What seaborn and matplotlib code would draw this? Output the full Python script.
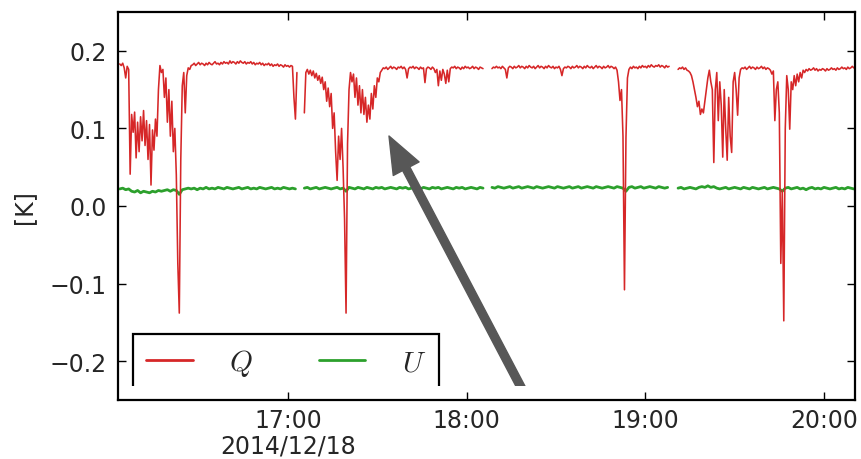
import numpy as np
import pandas as pd
import matplotlib
matplotlib.use("Agg")
import matplotlib.pyplot as plt
import matplotlib.dates as mdates
from matplotlib.ticker import FuncFormatter
from matplotlib.lines import Line2D
from matplotlib.patches import Rectangle
import seaborn as sns

# ---- data -------------------------------------------------------------
# Q sampled every 30 s, U every 60 s; each block is one uninterrupted scan.
q_starts = ["2014-12-18 16:03:30", "2014-12-18 17:05:30",
            "2014-12-18 18:08:30", "2014-12-18 19:11:00"]
u_starts = ["2014-12-18 16:03:30", "2014-12-18 17:05:30",
            "2014-12-18 18:08:30", "2014-12-18 19:11:00"]

q_block1 = [
    0.183, 0.181, 0.184, 0.178, 0.165, 0.180, 0.176, 0.041, 0.118, 0.095,
    0.121, 0.062, 0.108, 0.070, 0.115, 0.084, 0.123, 0.078, 0.110, 0.060,
    0.105, 0.027, 0.098, 0.072, 0.112, 0.090, 0.150, 0.181, 0.172, 0.176,
    0.140, 0.165, 0.108, 0.150, 0.090, 0.135, 0.070, 0.100, 0.040, -0.074,
    -0.138, 0.060, 0.155, 0.172, 0.120, 0.168, 0.178, 0.176, 0.181,
    0.182, 0.184, 0.181, 0.183, 0.185, 0.182, 0.184, 0.183, 0.181, 0.184,
    0.182, 0.185, 0.183, 0.182, 0.184, 0.186, 0.183, 0.184, 0.182, 0.185,
    0.183, 0.186, 0.184, 0.185, 0.183, 0.187, 0.184, 0.186, 0.185, 0.183,
    0.186, 0.184, 0.187, 0.185, 0.184, 0.186, 0.183, 0.185, 0.184, 0.186,
    0.183, 0.185, 0.182, 0.184, 0.183, 0.185, 0.182, 0.184, 0.181, 0.183,
    0.182, 0.184, 0.181, 0.183, 0.180, 0.182, 0.181, 0.183, 0.180, 0.182,
    0.181, 0.179, 0.182, 0.180, 0.181, 0.179, 0.181, 0.180,
    0.140, 0.112, 0.172,
]
q_block2 = [
    0.120, 0.172, 0.176, 0.170, 0.175, 0.168, 0.174, 0.165, 0.171, 0.162,
    0.168, 0.158, 0.166, 0.150, 0.160, 0.135, 0.152, 0.128, 0.145, 0.100,
    0.120, 0.070, 0.033, 0.090, 0.060, 0.100, 0.050, -0.017, -0.138,
    0.080, 0.150, 0.172, 0.160, 0.170, 0.140, 0.165, 0.130, 0.155, 0.120,
    0.150, 0.118, 0.140, 0.108, 0.130, 0.112, 0.145, 0.125, 0.155, 0.140,
    0.165, 0.160, 0.172, 0.175,
    0.178, 0.177, 0.179, 0.176, 0.178, 0.180, 0.177, 0.179, 0.178, 0.176,
    0.179, 0.178, 0.180, 0.177, 0.179, 0.176, 0.165, 0.177, 0.179, 0.178,
    0.180, 0.177, 0.179, 0.178, 0.176, 0.179, 0.177, 0.178, 0.159, 0.177,
    0.179, 0.178, 0.176, 0.179, 0.177, 0.172, 0.176, 0.155, 0.174, 0.162,
    0.176, 0.170, 0.158, 0.175, 0.160, 0.177, 0.179, 0.178, 0.180, 0.177,
    0.179, 0.178, 0.176, 0.179, 0.177, 0.180, 0.178, 0.179, 0.177, 0.178,
    0.180, 0.177, 0.179, 0.178, 0.176, 0.179, 0.178, 0.177,
]
q_block3 = [
    0.177, 0.179, 0.178, 0.180, 0.178, 0.179, 0.177, 0.180, 0.178, 0.176,
    0.165, 0.178, 0.180, 0.179, 0.177, 0.180, 0.178, 0.179, 0.181, 0.178,
    0.180, 0.179, 0.177, 0.180, 0.178, 0.181, 0.179, 0.178, 0.180, 0.177,
    0.179, 0.181, 0.178, 0.180, 0.179, 0.177, 0.180, 0.178, 0.181, 0.179,
    0.178, 0.180, 0.177, 0.179, 0.178, 0.180, 0.176, 0.168, 0.177, 0.179,
    0.178, 0.180, 0.179, 0.177, 0.180, 0.178, 0.179, 0.181, 0.178, 0.180,
    0.179, 0.177, 0.180, 0.178, 0.181, 0.179, 0.178, 0.180, 0.177, 0.179,
    0.181, 0.178, 0.180, 0.179, 0.177, 0.180, 0.178, 0.179, 0.181, 0.178,
    0.180, 0.179, 0.177, 0.179, 0.175, 0.160, 0.136, 0.150, 0.090, -0.108,
    0.088, 0.165, 0.176, 0.179, 0.177, 0.180, 0.178, 0.179, 0.177, 0.180,
    0.178, 0.181, 0.179, 0.180, 0.178, 0.181, 0.179, 0.182, 0.180, 0.179,
    0.181, 0.180, 0.182, 0.179, 0.181, 0.180, 0.178, 0.181, 0.179, 0.180,
]
q_block4 = [
    0.176, 0.178, 0.177, 0.179, 0.176, 0.178, 0.175, 0.174,
    0.172, 0.168, 0.160, 0.150, 0.140, 0.128, 0.135, 0.118, 0.125, 0.120,
    0.135, 0.150, 0.165, 0.175,
    0.160, 0.150, 0.056, 0.150, 0.172, 0.110, 0.160, 0.130, 0.063, 0.150,
    0.100, 0.059, 0.140, 0.090, 0.069, 0.160, 0.172, 0.150, 0.117, 0.165,
    0.176,
    0.178, 0.177, 0.179, 0.176, 0.178, 0.180, 0.177, 0.179, 0.178, 0.176,
    0.179, 0.177, 0.178, 0.180, 0.177, 0.179, 0.176, 0.178, 0.177, 0.175,
    0.170, 0.174, 0.110, 0.150, 0.160, 0.120, -0.074, 0.020, -0.148, 0.100,
    0.168, 0.150, 0.099, 0.160, 0.150, 0.168, 0.155, 0.170, 0.160, 0.172,
    0.165, 0.175, 0.172,
    0.176, 0.174, 0.177, 0.175, 0.176, 0.178, 0.175, 0.177, 0.174, 0.176,
    0.175, 0.177, 0.176, 0.174, 0.177, 0.175, 0.176, 0.178, 0.176, 0.177,
    0.175, 0.178, 0.176, 0.177, 0.179, 0.177, 0.178, 0.176, 0.179, 0.177,
    0.178, 0.180, 0.178, 0.179,
]

u_block1 = [
    0.022, 0.023, 0.021, 0.022,
    0.019, 0.018, 0.020, 0.017, 0.019, 0.018, 0.017, 0.019, 0.018, 0.020, 0.019,
    0.020, 0.021, 0.019, 0.021, 0.020,
    0.015,
    0.021, 0.022, 0.023, 0.022, 0.023, 0.021, 0.023, 0.022, 0.024, 0.022,
    0.023, 0.022, 0.024, 0.023, 0.022, 0.024, 0.023, 0.022, 0.023, 0.024,
    0.022, 0.023, 0.024, 0.022, 0.023, 0.022, 0.024, 0.023, 0.022, 0.023,
    0.024, 0.022, 0.023, 0.022, 0.024, 0.023, 0.022, 0.023, 0.022,
]
u_block2 = [
    0.023, 0.024, 0.022, 0.023, 0.024, 0.022, 0.023, 0.024, 0.023, 0.022,
    0.023, 0.024, 0.022, 0.023, 0.019, 0.024, 0.023, 0.022, 0.024, 0.023,
    0.022, 0.024, 0.023, 0.022, 0.024, 0.023, 0.024, 0.022, 0.023, 0.024,
    0.023, 0.022, 0.024, 0.023, 0.024, 0.022, 0.023, 0.024, 0.023, 0.022,
    0.024, 0.023, 0.022, 0.024, 0.023, 0.024, 0.022, 0.023, 0.024, 0.023,
    0.022, 0.024, 0.023, 0.024, 0.022, 0.023, 0.024, 0.023, 0.022, 0.024,
    0.023,
]
u_block3 = [
    0.024, 0.023, 0.025, 0.024, 0.023, 0.024, 0.025, 0.023, 0.024, 0.025,
    0.023, 0.024, 0.025, 0.024, 0.023, 0.025, 0.024, 0.023, 0.024, 0.025,
    0.024, 0.023, 0.025, 0.024, 0.023, 0.024, 0.025, 0.023, 0.024, 0.025,
    0.023, 0.024, 0.025, 0.024, 0.023, 0.025, 0.024, 0.023, 0.024, 0.025,
    0.024, 0.023, 0.025, 0.024, 0.023, 0.019, 0.024, 0.025, 0.023, 0.024,
    0.025, 0.023, 0.024, 0.025, 0.024, 0.023, 0.025, 0.024, 0.023, 0.024,
]
u_block4 = [
    0.023, 0.024, 0.022, 0.023, 0.024, 0.023, 0.022, 0.024, 0.025, 0.024,
    0.026, 0.024, 0.025, 0.023, 0.022, 0.023, 0.024, 0.022, 0.023, 0.024,
    0.023, 0.022, 0.024, 0.023, 0.022, 0.024, 0.023, 0.022, 0.023, 0.024,
    0.022, 0.023, 0.024, 0.023, 0.022, 0.019, 0.023, 0.024, 0.022, 0.023,
    0.024, 0.022, 0.023, 0.021, 0.023, 0.024, 0.022, 0.023, 0.022, 0.024,
    0.023, 0.022, 0.023, 0.024, 0.022, 0.023, 0.022, 0.024, 0.023, 0.022,
]

legend_labels = ["$Q$", "$U$"]
y_ticks = [-0.2, -0.1, 0.0, 0.1, 0.2]
date_label = "2014/12/18"

RED = "#d62728"
GREEN = "#2ca02c"

# ---- tidy table ---------------------------------------------------------
def blocks_to_frame(name, starts, blocks, step_s):
    parts = []
    for i, (start, vals) in enumerate(zip(starts, blocks)):
        t = pd.Timestamp(start) + pd.to_timedelta(np.arange(len(vals)) * step_s, unit="s")
        parts.append(pd.DataFrame({"time": t, "value": vals,
                                   "component": name, "scan": f"{name}{i}"}))
    return pd.concat(parts, ignore_index=True)

df_q = blocks_to_frame("Q", q_starts, [q_block1, q_block2, q_block3, q_block4], 30)
df_u = blocks_to_frame("U", u_starts, [u_block1, u_block2, u_block3, u_block4], 60)

# ---- figure -------------------------------------------------------------
sns.set_theme(style="white")
plt.rcParams["font.family"] = ["DejaVu Sans"]
plt.rcParams["mathtext.fontset"] = "cm"
plt.rcParams["axes.unicode_minus"] = True

fig = plt.figure(figsize=(8.62, 4.6), dpi=100)
ax = fig.add_axes([118 / 862, 59 / 460, 737 / 862, 388 / 460])

sns.lineplot(data=df_u, x="time", y="value", units="scan", estimator=None,
             sort=False, color=GREEN, linewidth=2.0, ax=ax, legend=False)
sns.lineplot(data=df_q, x="time", y="value", units="scan", estimator=None,
             sort=False, color=RED, linewidth=1.15, ax=ax, legend=False)

ax.set_xlim(pd.Timestamp("2014-12-18 16:02:55"), pd.Timestamp("2014-12-18 20:10:25"))
ax.set_ylim(-0.25, 0.25)
ax.set_yticks(y_ticks)
ax.yaxis.set_major_formatter(FuncFormatter(lambda v, p: f"{v:.1f}".replace("-", "\u2212")))

ax.xaxis.set_major_locator(mdates.HourLocator())


def time_fmt(v, pos):
    d = mdates.num2date(v)
    s = d.strftime("%H:%M")
    if d.hour == 17:
        s += "\n" + date_label
    return s


ax.xaxis.set_major_formatter(FuncFormatter(time_fmt))
for lbl in ax.get_xticklabels():
    lbl.set_linespacing(1.05)

ax.set_xlabel("")
ax.set_ylabel("[K]", fontsize=17, labelpad=10)
ax.tick_params(axis="both", which="major", direction="in", length=6, width=1,
               color="black", labelsize=17, top=True, right=True,
               bottom=True, left=True)
ax.tick_params(axis="x", pad=6)
ax.tick_params(axis="y", pad=8)
for sp in ax.spines.values():
    sp.set_color("black")
    sp.set_linewidth(1.6)
    sp.set_zorder(8)
ax.xaxis.set_zorder(7)
ax.yaxis.set_zorder(7)

# legend
handles = [Line2D([], [], color=RED, lw=2), Line2D([], [], color=GREEN, lw=2)]
leg = ax.legend(handles, legend_labels, loc="upper left",
                bbox_to_anchor=((133 - 118) / 737, (401 - 335) / 388),
                borderaxespad=0, ncol=2, fontsize=21, frameon=True,
                fancybox=False, framealpha=1, edgecolor="black",
                handlelength=1.6, handletextpad=1.25, columnspacing=2.25,
                borderpad=0.45)
leg.get_frame().set_linewidth(1.6)

# annotation arrow
ax.annotate("", xy=(0.3677, 0.6804), xytext=(0.5495, 0.0232),
            xycoords="axes fraction", textcoords="axes fraction",
            arrowprops=dict(arrowstyle="simple,head_length=2.66,head_width=2.1,tail_width=0.58",
                            mutation_scale=10, fc="#575757", ec="#575757",
                            shrinkA=0, shrinkB=0))

# blank band along the lower edge of the legend and the arrow tail
ax.add_patch(Rectangle((0.0176, 0.006), 0.54, 0.030, transform=ax.transAxes,
                       facecolor="white", edgecolor="none", zorder=6,
                       clip_on=False))

fig.savefig("out.png", dpi=100)
